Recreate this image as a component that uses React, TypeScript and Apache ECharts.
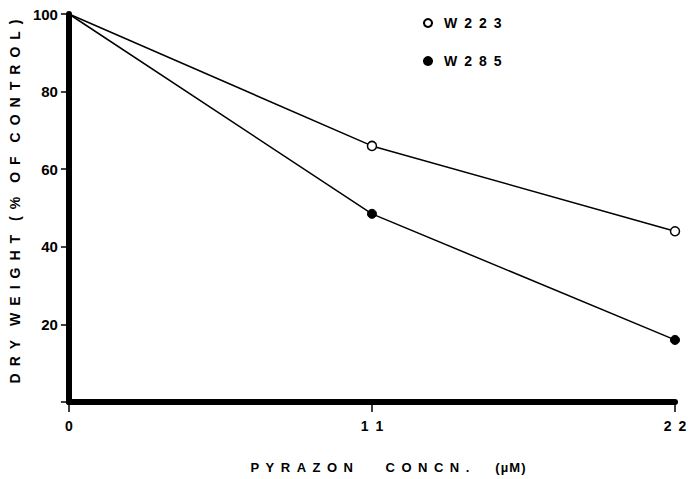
import React, { useEffect, useRef } from "react";
import * as echarts from "echarts";

const concentrations = [0, 11, 22];
const w223 = [100, 66, 44];
const w285 = [100, 48.5, 16];
const yTicks = [0, 20, 40, 60, 80, 100];
const seriesNames = ["W223", "W285"];

const EN = "\u2002"; // en space
const spaced = (s: string) => s.split("").join(EN);
const wideWords = (words: string[], intra: string, inter: string) =>
  words.map((w) => w.split("").join(intra)).join(inter);
const FONT = "Liberation Sans";

const yName = wideWords(["DRY", "WEIGHT", "(%", "OF", "CONTROL)"], EN, EN + EN);
const xName =
  wideWords(["PYRAZON", "CONCN."], EN, EN + EN + EN + EN + EN) +
  EN + EN + EN + EN +
  "(\u200Aµ\u200AM\u200A)";

export default function App() {
  const ref = useRef<HTMLDivElement>(null);
  useEffect(() => {
    if (!ref.current) return;
    const chart = echarts.init(ref.current, undefined, { renderer: "svg" });
    const mk = (vals: number[]) =>
      vals.map((v, i) => ({
        value: [concentrations[i], v],
        symbolSize: i === 0 ? 0 : 9,
      }));
    chart.setOption({
      animation: false,
      backgroundColor: "#fff",
      grid: { left: 63, right: 15, top: 14, bottom: 75 },
      legend: {
        orient: "vertical",
        left: 422,
        top: 14,
        padding: 0,
        itemWidth: 10,
        itemHeight: 10,
        itemGap: 20,
        data: seriesNames,
        formatter: (n: string) => spaced(n),
        textStyle: {
          fontFamily: FONT,
          fontWeight: "bold",
          fontSize: 14,
          lineHeight: 18,
          color: "#000",
          padding: [0, 0, 0, 6],
        },
      },
      xAxis: {
        type: "value",
        min: 0,
        max: 22,
        interval: 11,
        name: xName,
        nameLocation: "middle",
        nameGap: 59,
        nameTextStyle: {
          fontFamily: FONT,
          fontWeight: "bold",
          fontSize: 13,
          color: "#000",
          padding: [0, 0, 0, 32],
        },
        axisLine: { show: true, onZero: false, lineStyle: { color: "#000", width: 6 } },
        axisTick: { show: true, inside: false, length: 10, lineStyle: { color: "#000", width: 1.5 } },
        axisLabel: {
          margin: 17,
          fontFamily: FONT,
          fontWeight: "bold",
          fontSize: 14,
          color: "#000",
          formatter: (v: number) => spaced(String(v)),
        },
        splitLine: { show: false },
      },
      yAxis: {
        type: "value",
        min: yTicks[0],
        max: yTicks[yTicks.length - 1],
        interval: 20,
        name: yName,
        nameLocation: "middle",
        nameRotate: 90,
        nameGap: 38,
        nameTextStyle: {
          fontFamily: FONT,
          fontWeight: "bold",
          fontSize: 14,
          color: "#000",
          padding: [0, 0, 0, 13],
        },
        axisLine: { show: true, lineStyle: { color: "#000", width: 6 } },
        axisTick: { show: true, inside: false, length: 8, lineStyle: { color: "#000", width: 1.5 } },
        axisLabel: {
          margin: 11,
          fontFamily: FONT,
          fontWeight: "bold",
          fontSize: 15,
          color: "#000",
          formatter: (v: number) => (v === 0 ? "" : String(v)),
        },
        splitLine: { show: false },
      },
      series: [
        {
          name: seriesNames[0],
          type: "line",
          symbol: "circle",
          data: mk(w223),
          lineStyle: { color: "#000", width: 1.5 },
          itemStyle: { color: "#fff", borderColor: "#000", borderWidth: 1.5 },
        },
        {
          name: seriesNames[1],
          type: "line",
          symbol: "circle",
          data: mk(w285),
          lineStyle: { color: "#000", width: 1.5 },
          itemStyle: { color: "#000", borderColor: "#000", borderWidth: 1 },
        },
      ],
    });
    return () => chart.dispose();
  }, []);
  return (
    <div
      ref={ref}
      style={{ position: "fixed", left: 0, top: 0, width: 690, height: 479 }}
    />
  );
}
